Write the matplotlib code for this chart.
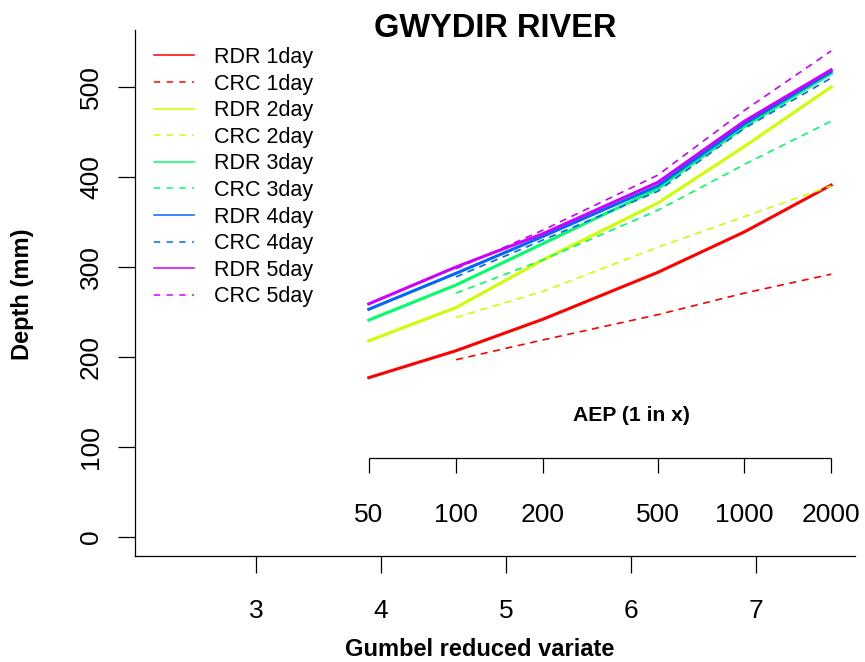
import numpy as np
import matplotlib.pyplot as plt
from matplotlib.lines import Line2D

plt.rcParams['font.family'] = ['Liberation Sans', 'DejaVu Sans']

# AEP (1 in x) where each series is evaluated
aep_rdr = [50, 100, 200, 500, 1000, 2000]
aep_crc = [100, 200, 500, 1000, 2000]

# depths (mm)
rdr_1day = [177, 207, 242, 294, 339, 391]
rdr_2day = [218, 255, 308, 371, 434, 500]
rdr_3day = [241, 280, 326, 387, 456, 515]
rdr_4day = [253, 293, 334, 390, 459, 517]
rdr_5day = [259, 300, 337, 394, 462, 519]

crc_1day = [197, 219, 247, 271, 292]
crc_2day = [244, 273, 322, 356, 390]
crc_3day = [271, 308, 363, 414, 462]
crc_4day = [289, 330, 384, 454, 510]
crc_5day = [298, 341, 402, 474, 540]

durations = ['1day', '2day', '3day', '4day', '5day']
rdr_series = [rdr_1day, rdr_2day, rdr_3day, rdr_4day, rdr_5day]
crc_series = [crc_1day, crc_2day, crc_3day, crc_4day, crc_5day]
colors = ['#FF0000', '#CCFF00', '#00FF66', '#0066FF', '#CC00FF']

aep_ticks = [50, 100, 200, 500, 1000, 2000]
gumbel_ticks = [3, 4, 5, 6, 7]
depth_ticks = [0, 100, 200, 300, 400, 500]


def gumbel(t):
    t = np.asarray(t, dtype=float)
    return -np.log(-np.log(1 - 1 / t))


W, H = 865, 662
fig = plt.figure(figsize=(W / 100, H / 100), dpi=100)
ax = fig.add_axes([135 / W, 106 / H, 720 / W, 526 / H])

handles, labels = [], []
for name, rdr, crc, col in zip(durations, rdr_series, crc_series, colors):
    ax.plot(gumbel(aep_rdr), rdr, color=col, lw=2.2)
    ax.plot(gumbel(aep_crc), crc, color=col, lw=1.2, dashes=(4.2, 3.4))
    # legend keys are drawn thin, as in the original
    handles.append(Line2D([], [], color=col, lw=1.1))
    labels.append('RDR ' + name)
    handles.append(Line2D([], [], color=col, lw=1.1, dashes=(4, 4.3)))
    labels.append('CRC ' + name)

ax.set_xlim(2.032, 7.792)
ax.set_ylim(-21.1, 563.3)

for s in ['top', 'right']:
    ax.spines[s].set_visible(False)
for s in ['left', 'bottom']:
    ax.spines[s].set_linewidth(0.9)

ax.set_xticks(gumbel_ticks)
ax.set_yticks(depth_ticks)
ax.tick_params(axis='both', direction='out', length=12, width=0.9,
               labelsize=19)
ax.tick_params(axis='x', pad=19)
ax.tick_params(axis='y', pad=11)
for lab in ax.get_yticklabels():
    lab.set_rotation(90)
    lab.set_va('center')

ax.set_xlabel('Gumbel reduced variate', fontsize=17, fontweight='bold')
ax.xaxis.label.set_va('center')
ax.xaxis.set_label_coords((480 - 135) / 720, (556 - 650) / 526)
ax.set_ylabel('Depth (mm)', fontsize=17, fontweight='bold')
ax.yaxis.label.set_va('center')
ax.yaxis.set_label_coords((23 - 135) / 720, (556 - 294) / 526)

fig.text(495 / W, 1 - 37 / H, 'GWYDIR RIVER', fontsize=23.5,
         fontweight='bold', ha='center', va='baseline')

# secondary AEP axis drawn inside the plot
gx = gumbel(aep_ticks)
ax.hlines(87.8, gx[0], gx[-1], color='black', lw=0.9)
ax.vlines(gx, 71, 87.8, color='black', lw=0.9)
for x, t in zip(gx, aep_ticks):
    ax.text(x, 17, str(t), fontsize=19, ha='center', va='baseline')
ax.text(6.0, 129, 'AEP (1 in x)', fontsize=15.2, fontweight='bold',
        ha='center', va='baseline')

ax.legend(handles, labels, loc='upper left',
          bbox_to_anchor=(154 / W, 1 - 47 / H),
          bbox_transform=fig.transFigure, frameon=False, fontsize=15.5,
          handlelength=1.86, handletextpad=0.93, labelspacing=0.26,
          borderpad=0, borderaxespad=0)

fig.savefig('out.png', dpi=100)
